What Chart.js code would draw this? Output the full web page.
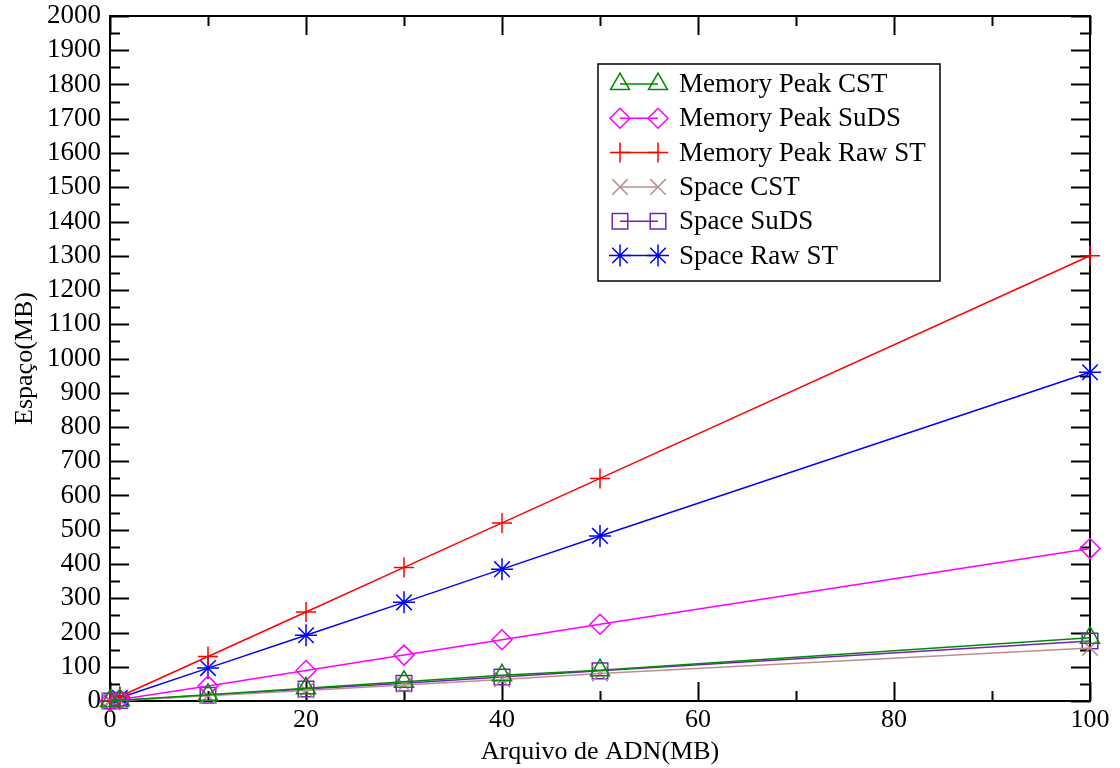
<!DOCTYPE html>
<html>
<head>
<meta charset="utf-8">
<script src="https://cdn.jsdelivr.net/npm/chart.js@4.4.1/dist/chart.umd.min.js"></script>
<style>
  html, body { margin: 0; padding: 0; background: #fff; }
  #wrap { width: 1120px; height: 768px; }
</style>
</head>
<body>
<div id="wrap"><canvas id="myChart" width="1120" height="768"></canvas></div>
<script>
// file sizes (MB) on the x axis
const fileSizes = [0, 1, 10, 20, 30, 40, 50, 100];

const memPeakCST   = [0, 2, 18, 37, 56, 75, 90, 185];
const memPeakSuDS  = [0, 4.5, 44, 89, 134, 179, 224, 445];
const memPeakRawST = [0, 13, 130, 260, 390, 520, 650, 1300];
const spaceCST     = [0, 1.5, 15, 31, 47, 63, 80, 155];
const spaceSuDS    = [0, 1.8, 17, 35, 52, 70, 88, 175];
const spaceRawST   = [0, 9.6, 96, 192, 288, 385, 482, 960];

const seriesNames = ['Memory Peak CST', 'Memory Peak SuDS', 'Memory Peak Raw ST', 'Space CST', 'Space SuDS', 'Space Raw ST'];

const FONT = '"Liberation Serif", "Times New Roman", serif';

function toPoints(ys) {
    return fileSizes.map((x, i) => ({ x: x, y: ys[i] }));
}

function makeSeries(label, ys, color, style, radius) {
    return {
        label: label,
        data: toPoints(ys),
        showLine: true,
        clip: false,
        borderColor: color,
        borderWidth: 1.5,
        pointStyle: style,
        pointRadius: radius,
        pointBorderColor: color,
        pointBackgroundColor: 'rgba(0,0,0,0)',
        pointBorderWidth: 1.5,
        tension: 0
    };
}

const datasets = [
    makeSeries(seriesNames[0], memPeakCST, '#008b00', 'triangle', 11),
    makeSeries(seriesNames[1], memPeakSuDS, '#ff00ff', 'rectRot', 10),
    makeSeries(seriesNames[2], memPeakRawST, '#ff0000', 'cross', 10),
    makeSeries(seriesNames[3], spaceCST, '#bc8f8f', 'crossRot', 11),
    makeSeries(seriesNames[4], spaceSuDS, '#7221bc', 'rect', 11),
    makeSeries(seriesNames[5], spaceRawST, '#0000ff', 'star', 11)
];

// inward ticks on all four sides plus the frame
const frameTicks = {
    id: 'frameTicks',
    beforeDatasetsDraw(chart) {
        const { ctx, chartArea: a, scales } = chart;
        ctx.save();
        ctx.strokeStyle = '#000';
        ctx.lineWidth = 2;
        ctx.strokeRect(a.left, a.top, a.right - a.left, a.bottom - a.top);
        ctx.beginPath();
        for (let v = 0; v <= 2000; v += 50) {
            const y = Math.round(scales.y.getPixelForValue(v)) + 0.5;
            const len = v % 100 === 0 ? 19 : 10;
            ctx.moveTo(a.left, y); ctx.lineTo(a.left + len, y);
            ctx.moveTo(a.right, y); ctx.lineTo(a.right - len, y);
        }
        for (let v = 0; v <= 100; v += 10) {
            const x = Math.round(scales.x.getPixelForValue(v)) + 0.5;
            const len = v % 20 === 0 ? 19 : 10;
            ctx.moveTo(x, a.bottom); ctx.lineTo(x, a.bottom - len);
            ctx.moveTo(x, a.top); ctx.lineTo(x, a.top + len);
        }
        ctx.stroke();
        ctx.restore();
    }
};

// grace-style legend box: line with two markers
const boxLegend = {
    id: 'boxLegend',
    afterDraw(chart) {
        const ctx = chart.ctx;
        const left = 598, top = 64, w = 342, h = 217;
        ctx.save();
        ctx.fillStyle = '#fff';
        ctx.fillRect(left, top, w, h);
        ctx.strokeStyle = '#000';
        ctx.lineWidth = 1.5;
        ctx.strokeRect(left, top, w, h);
        ctx.font = '27px ' + FONT;
        ctx.textBaseline = 'middle';
        chart.data.datasets.forEach((ds, i) => {
            const y = top + 20 + i * 34.3;
            const x1 = 620, x2 = 658;
            ctx.strokeStyle = ds.borderColor;
            ctx.lineWidth = 1.5;
            ctx.beginPath();
            ctx.moveTo(x1, y); ctx.lineTo(x2, y);
            ctx.stroke();
            ctx.fillStyle = 'rgba(0,0,0,0)';
            [x1, x2].forEach(px => {
                Chart.helpers.drawPoint(ctx, {
                    pointStyle: ds.pointStyle,
                    radius: ds.pointRadius,
                    rotation: 0,
                    borderWidth: 1.5
                }, px, y);
            });
            ctx.fillStyle = '#000';
            ctx.fillText(ds.label, 679, y + 1);
        });
        ctx.restore();
    }
};

const ctx = document.getElementById('myChart').getContext('2d');
new Chart(ctx, {
    type: 'scatter',
    data: { datasets: datasets },
    options: {
        responsive: false,
        animation: false,
        layout: { padding: { top: 16, right: 30, left: 0, bottom: 0 } },
        scales: {
            x: {
                type: 'linear',
                min: 0, max: 100,
                grid: { display: false, drawTicks: false },
                border: { display: false },
                ticks: { stepSize: 20, autoSkip: false, color: '#000', font: { family: FONT, size: 26 }, padding: 4, maxRotation: 0,
                         callback: v => String(v) },
                title: { display: true, text: 'Arquivo de ADN(MB)', color: '#000', font: { family: FONT, size: 26 }, padding: { top: 0, bottom: 0 } },
                afterFit(scale) {
                    scale.height = 67;
                    scale.paddingLeft = 0; scale.paddingRight = 0;
                }
            },
            y: {
                type: 'linear',
                min: 0, max: 2000,
                grid: { display: false, drawTicks: false },
                border: { display: false },
                ticks: { stepSize: 100, autoSkip: false, color: '#000', font: { family: FONT, size: 27 }, padding: 9,
                         callback: v => String(v) },
                title: { display: true, text: 'Espaço(MB)', color: '#000', font: { family: FONT, size: 26 }, padding: { top: 10, bottom: 0 } },
                afterFit(scale) {
                    scale.width = 110;
                    scale.paddingTop = 0; scale.paddingBottom = 0;
                }
            }
        },
        plugins: {
            legend: { display: false },
            tooltip: { enabled: false }
        }
    },
    plugins: [frameTicks, boxLegend]
});
</script>
</body>
</html>
